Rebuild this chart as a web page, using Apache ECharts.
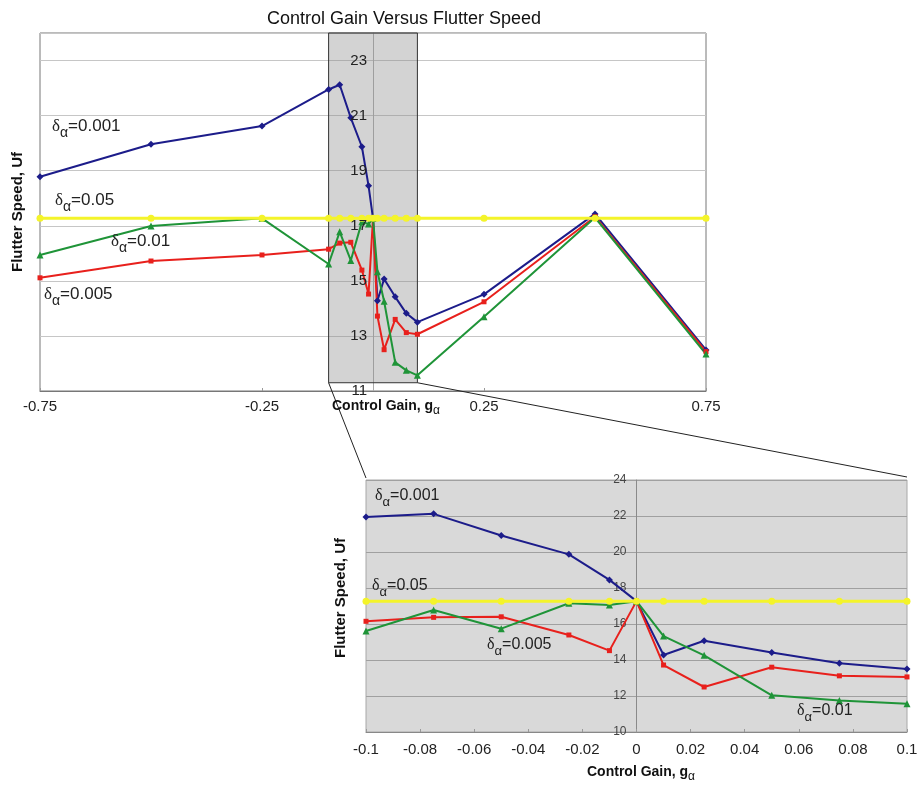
<!DOCTYPE html>
<html>
<head>
<meta charset="utf-8">
<script src="https://cdn.jsdelivr.net/npm/echarts@6.0.0/dist/echarts.min.js"></script>
<style>html,body{margin:0;padding:0;background:#fff;}#c{width:922px;height:787px;}</style>
</head>
<body>
<div id="c"></div>
<script>
// ---- data ----
const gains = [-0.75, -0.5, -0.25, -0.1, -0.075, -0.05, -0.025, -0.01, 0, 0.01, 0.025, 0.05, 0.075, 0.1, 0.25, 0.5, 0.75];
const uf001 = [18.78, 19.96, 20.62, 21.95, 22.12, 20.92, 19.87, 18.45, 17.27, 14.28, 15.07, 14.42, 13.82, 13.5, 14.51, 17.43, 12.49];
const uf005 = [15.11, 15.72, 15.94, 16.15, 16.37, 16.4, 15.39, 14.52, 17.27, 13.72, 12.5, 13.6, 13.12, 13.06, 14.24, 17.33, 12.43];
const uf01  = [15.94, 16.99, 17.27, 15.61, 16.78, 15.74, 17.15, 17.06, 17.27, 15.33, 14.26, 12.04, 11.75, 11.57, 13.7, 17.3, 12.34];
const uf05  = [17.27, 17.27, 17.27, 17.27, 17.27, 17.27, 17.27, 17.27, 17.27, 17.27, 17.27, 17.27, 17.27, 17.27, 17.27, 17.27, 17.27];
const zoomRange = [-0.1, 0.1];
const zoomBoxY = [11.3, 24];
const seriesNames = ['δα=0.001', 'δα=0.005', 'δα=0.01', 'δα=0.05'];

// ---- styles ----
const colors = ['#1c1c8a', '#e8201c', '#1f9438', '#f4f42a'];
const symbols = ['diamond', 'rect', 'triangle', 'circle'];
const symSizes = [7, 5, 7, 7];
const widths = [2, 2, 2, 3];
const FONT = 'Liberation Sans, Arial, sans-serif';

const allVals = [uf001, uf005, uf01, uf05];
function pairs(vals, inset) {
  const out = [];
  gains.forEach((g, i) => {
    if (!inset || (g >= zoomRange[0] - 1e-9 && g <= zoomRange[1] + 1e-9)) out.push([g, vals[i]]);
  });
  return out;
}

const chart = echarts.init(document.getElementById('c'), null, {renderer: 'canvas'});

const series = [];
[0, 1].forEach(gi => {
  allVals.forEach((vals, k) => {
    series.push({
      name: seriesNames[k],
      type: 'line',
      xAxisIndex: gi, yAxisIndex: gi,
      data: pairs(vals, gi === 1),
      symbol: symbols[k],
      symbolSize: symSizes[k],
      showSymbol: true,
      lineStyle: {color: colors[k], width: widths[k]},
      itemStyle: {color: colors[k], borderWidth: 0},
      z: k === 3 ? 4 : 3,
      animation: false,
      silent: true
    });
  });
});
// zoom box
series.push({
  type: 'line', xAxisIndex: 0, yAxisIndex: 0, data: [], silent: true, animation: false,
  markArea: {
    silent: true,
    z: 1,
    itemStyle: {color: 'rgba(140,140,140,0.38)', borderColor: '#333', borderWidth: 1},
    data: [[{coord: [zoomRange[0], zoomBoxY[1]]}, {coord: [zoomRange[1], zoomBoxY[0]]}]]
  }
});

function delta(x, y, val, size, id) {
  const pad = Math.round(size * 0.3);
  return {
    type: 'text', id: id, left: x, top: y, silent: true, z: 10,
    style: {text: '{d|δ}{s|α}{n|=' + val + '}', rich: {
      d: {fontFamily: 'Liberation Serif, serif', fontSize: size, fill: '#222', padding: [0, 0, pad, 0], verticalAlign: 'bottom'},
      s: {fontFamily: FONT, fontSize: Math.round(size * 0.8), fill: '#222', verticalAlign: 'bottom'},
      n: {fontFamily: FONT, fontSize: size, fill: '#222', padding: [0, 0, pad, 0], verticalAlign: 'bottom'}
    }}
  };
}
function xTitle(id, x, y) {
  return {type: 'text', id: id, left: x, top: y, silent: true, z: 10,
    style: {text: '{b|Control Gain, g}{s|α}', rich: {
      b: {fontFamily: FONT, fontSize: 14, fontWeight: 'bold', fill: '#111', padding: [0, 0, 4, 0], verticalAlign: 'bottom'},
      s: {fontFamily: FONT, fontSize: 12, fill: '#111', verticalAlign: 'bottom'}}}};
}
function yTitle(id, x, y) {
  return {type: 'text', id: id, x: x, y: y, rotation: Math.PI / 2, silent: true, z: 10,
    style: {text: 'Flutter Speed, Uf', fontFamily: FONT, fontSize: 15, fontWeight: 'bold', fill: '#111', align: 'center', verticalAlign: 'middle'}};
}

const option = {
  animation: false,
  backgroundColor: '#fff',
  title: {
    text: 'Control Gain Versus Flutter Speed',
    left: 399, top: 5, textAlign: 'center',
    textStyle: {fontFamily: FONT, fontSize: 18, fontWeight: 'normal', color: '#111'}
  },
  grid: [
    {left: 40, right: 216, top: 33, bottom: 396, show: true, borderColor: '#777', borderWidth: 1, backgroundColor: '#fff', containLabel: false},
    {left: 366, right: 15, top: 480, bottom: 55, show: true, borderColor: '#a8a8a8', borderWidth: 1, backgroundColor: '#d9d9d9', containLabel: false}
  ],
  xAxis: [
    {
      type: 'value', gridIndex: 0, min: -0.75, max: 0.75, interval: 0.5,
      axisLine: {show: true, onZero: false, lineStyle: {color: '#777'}},
      axisTick: {show: true, inside: true, length: 3, lineStyle: {color: '#999'}},
      splitLine: {show: false},
      axisLabel: {fontFamily: FONT, fontSize: 15, color: '#222', margin: 8, formatter: v => String(v)}
    },
    {
      type: 'value', gridIndex: 1, min: -0.1, max: 0.1, interval: 0.02,
      axisLine: {show: true, onZero: false, lineStyle: {color: '#888'}},
      axisTick: {show: true, inside: true, length: 3, lineStyle: {color: '#999'}},
      splitLine: {show: false},
      axisLabel: {fontFamily: FONT, fontSize: 15, color: '#222', margin: 10,
        formatter: v => String(Math.round(v * 100) / 100)}
    }
  ],
  yAxis: [
    {
      type: 'value', gridIndex: 0, min: 11, max: 24, interval: 2, position: 'left', offset: 0, z: 0,
      axisLine: {show: true, onZero: false, lineStyle: {color: '#aaa'}},
      axisTick: {show: false},
      splitLine: {show: true, lineStyle: {color: '#c6c6c6', width: 1}},
      axisLabel: {show: false}
    },
    {
      type: 'value', gridIndex: 1, min: 10, max: 24, interval: 2, position: 'left', offset: 0,
      axisLine: {show: true, onZero: false, lineStyle: {color: '#8a8a8a'}},
      axisTick: {show: false},
      splitLine: {show: true, lineStyle: {color: '#a0a0a0', width: 1}},
      axisLabel: {fontFamily: FONT, fontSize: 12, color: '#444', margin: 10}
    },
    {
      // label-only copy of the upper y axis, drawn above the zoom box
      type: 'value', gridIndex: 0, min: 11, max: 24, interval: 2, position: 'left', offset: 0, z: 5,
      axisLine: {show: false, onZero: false},
      axisTick: {show: false},
      splitLine: {show: false},
      axisLabel: {fontFamily: FONT, fontSize: 15, color: '#222', margin: 6, showMaxLabel: false}
    }
  ],
  graphic: [
    xTitle('xt0', 332, 399),
    xTitle('xt1', 587, 765),
    yTitle('yt0', 18, 212),
    yTitle('yt1', 341, 598),
    // annotations, top
    delta(52, 118, '0.001', 17, 'a1'),
    delta(55, 192, '0.05', 17, 'a2'),
    delta(111, 233, '0.01', 17, 'a3'),
    delta(44, 286, '0.005', 17, 'a4'),
    // annotations, inset
    delta(375, 488, '0.001', 16, 'b1'),
    delta(372, 578, '0.05', 16, 'b2'),
    delta(487, 637, '0.005', 16, 'b3'),
    delta(797, 703, '0.01', 16, 'b4')
  ],
  series: series
};
chart.setOption(option);

// move the y axes onto x = 0 of each grid
const z0 = chart.convertToPixel({xAxisIndex: 0, yAxisIndex: 0}, [0, 11]);
const z1 = chart.convertToPixel({xAxisIndex: 1, yAxisIndex: 1}, [0, 10]);
const l0 = chart.convertToPixel({xAxisIndex: 0, yAxisIndex: 0}, [-0.75, 11]);
const l1 = chart.convertToPixel({xAxisIndex: 1, yAxisIndex: 1}, [-0.1, 10]);

// connector lines from zoom box to inset
const p1 = chart.convertToPixel({xAxisIndex: 0, yAxisIndex: 0}, [zoomRange[0], zoomBoxY[0]]);
const p2 = chart.convertToPixel({xAxisIndex: 0, yAxisIndex: 0}, [zoomRange[1], zoomBoxY[0]]);
const q1 = chart.convertToPixel({xAxisIndex: 1, yAxisIndex: 1}, [-0.1, 24]);
const q2 = chart.convertToPixel({xAxisIndex: 1, yAxisIndex: 1}, [0.1, 24]);
chart.setOption({
  yAxis: [{offset: l0[0] - z0[0]}, {offset: l1[0] - z1[0]}, {offset: l0[0] - z0[0]}],
  graphic: [
    {type: 'line', id: 'c1', silent: true, z: 9, shape: {x1: p1[0], y1: p1[1], x2: q1[0], y2: q1[1] - 2}, style: {stroke: '#222', lineWidth: 1}},
    {type: 'line', id: 'c2', silent: true, z: 9, shape: {x1: p2[0], y1: p2[1], x2: q2[0], y2: q2[1] - 3}, style: {stroke: '#222', lineWidth: 1}}
  ]
});
</script>
</body>
</html>
